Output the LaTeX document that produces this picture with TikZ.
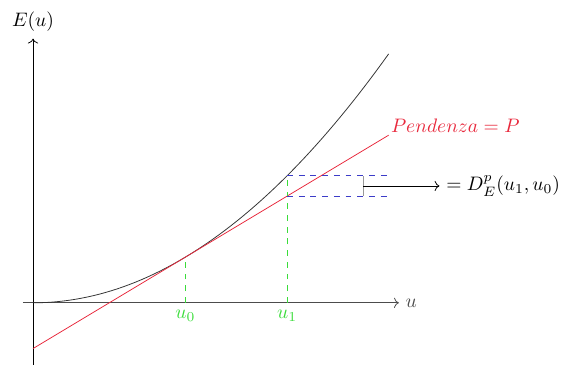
\documentclass[tikz,border=0pt]{standalone}
\usepackage{amsmath, amssymb}
\usepackage{tikz}
\usetikzlibrary{arrows.meta, positioning, calc}
\definecolor{SlopeRed}{HTML}{E8283C}
\definecolor{GuideGreen}{HTML}{3ADC3A}
\definecolor{LevelBlue}{HTML}{3C3CC8}

\begin{document}
\begin{tikzpicture}[x=0.915cm, y=0.915cm,
    guideline/.style={draw=GuideGreen, dashed, line width=0.5pt},
    levelline/.style={draw=LevelBlue, dashed, line width=0.5pt}]
  \useasboundingbox (-0.65,-1.22) rectangle (10.49,5.96);
  % Axes
  \draw[->, black!70] (-0.2,0) -- (7.2,0) node[right] (uax) {$u$};
  \draw[->] (0,-1.22) -- (0,5.2) node[above] (eax) {$E(u)$};
  % Energy curve
  \draw[black!80] plot[domain=0:7, samples=60] (\x, {0.1*\x*\x});
  % Tangent at u_0
  \draw[SlopeRed] (0,-0.9) -- (7,3.3)
    node[above right, inner sep=1pt, SlopeRed] (slope) {$Pendenza = P$};
  % Vertical guides
  \draw[guideline] (3,0) -- (3,0.9);
  \draw[guideline] (5,0) -- (5,2.5);
  \node[below, GuideGreen] (uzero) at (3,0) {$u_0$};
  \node[below, GuideGreen] (uone) at (5,0) {$u_1$};
  % Gap between curve and tangent
  \draw[levelline] (5,2.5) -- (7,2.5);
  \draw[levelline] (5,2.1) -- (7,2.1);
  \draw[black!40] (6.5,2.1) -- (6.5,2.5);
  \coordinate (gap) at (6.5,2.3);
  \node[right] (dist) at (8,2.3) {$= D^p_E(u_1,u_0)$};
  \draw[->] (gap) -- (dist.west);
\end{tikzpicture}
\end{document}
